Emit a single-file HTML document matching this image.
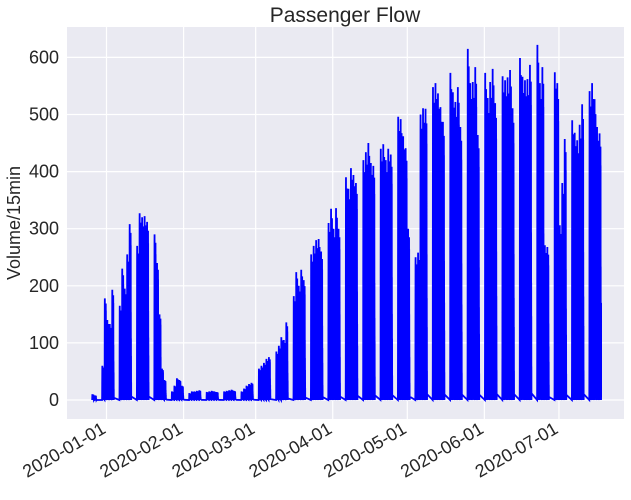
<!DOCTYPE html>
<html><head><meta charset="utf-8"><style>
body{margin:0;background:#fff;}
svg text{font-family:"Liberation Sans",Arial,sans-serif;fill:#262626;}
</style></head><body>
<svg id="chart" width="631" height="495" xmlns="http://www.w3.org/2000/svg">
<rect x="67" y="27" width="557" height="392" fill="#eaeaf2"/>
<g id="grid"></g>
<g id="axes"></g>
<path id="series" fill="none" stroke="#0000ff" stroke-width="1.8" stroke-linejoin="miter"/>
<text x="345" y="22" font-size="21" text-anchor="middle">Passenger Flow</text>
<text transform="translate(20,223) rotate(-90)" font-size="18" text-anchor="middle">Volume/15min</text>
</svg>
<script>
// Data
const yTicks = [0, 100, 200, 300, 400, 500, 600];
const xTickLabels = ["2020-01-01","2020-02-01","2020-03-01","2020-04-01","2020-05-01","2020-06-01","2020-07-01"];
const xTickDays = [0, 31, 60, 91, 121, 152, 182];
const firstDays = [10, 8];              // Dec 26, Dec 27
const firstDayOffset = -6;              // Dec 26 relative to Jan 1
const weekdayPeaks = [
  60,178,140,133,193,
  165,230,195,255,308,
  270,327,320,322,312,
  290,240,150,55,35,
  15,25,38,35,25,
  12,15,15,16,17,
  14,15,16,15,14,
  15,16,17,18,16,
  15,20,25,28,30,
  55,60,65,72,75,
  85,95,110,105,136,
  182,224,200,228,210,
  255,270,280,282,260,
  310,335,300,336,300,
  390,370,406,394,380,
  420,434,450,415,410,
  440,448,420,440,430,
  496,492,462,441,300,
  250,258,500,511,510,
  548,555,537,513,487,
  573,539,522,548,478,
  615,555,557,583,464,
  573,529,557,580,520,
  567,560,565,578,511,
  599,566,560,562,587,
  622,555,583,271,268,
  574,555,306,380,457,
  490,468,455,482,518,
  541,555,527,478,467
];
const slotProfile = [0,0.05,0.15,0.5,0.7,0.95,1.0,0.4,0.6,0.2,0.45,0.15,0.5,0.2,0.55,0.15,0.48,0.2,0.5,0.15,0.55,0.3,0.72,0.5,0.95,0.6,0.88,0.3,0.5,0.1,0.35,0.05,0.25,0.02,0.1,0,0.02];
const slotStartHour = 5;

const x0 = 106.5, pxPerDay = 2.486;
const xScale = d => x0 + d * pxPerDay;
const yScale = v => 400 - v * 0.571;
const NS = 'http://www.w3.org/2000/svg';
const grid = document.getElementById('grid');
const axes = document.getElementById('axes');

yTicks.forEach(t => {
  const l = document.createElementNS(NS,'line');
  
  
  l.setAttribute('x1',67);l.setAttribute('x2',624);
  l.setAttribute('y1',yScale(t));l.setAttribute('y2',yScale(t));
  l.setAttribute('stroke','#fff');l.setAttribute('stroke-width','1.2');
  grid.appendChild(l);
  const tx = document.createElementNS(NS,'text');
  
  
  tx.setAttribute('x',59);tx.setAttribute('y',yScale(t)+6);
  tx.setAttribute('font-size','18');tx.setAttribute('text-anchor','end');
  tx.textContent = t;
  axes.appendChild(tx);
});
xTickDays.forEach((d,i) => {
  const x = xScale(d);
  const l = document.createElementNS(NS,'line');
  
  
  l.setAttribute('x1',x);l.setAttribute('x2',x);
  l.setAttribute('y1',27);l.setAttribute('y2',419);
  l.setAttribute('stroke','#fff');l.setAttribute('stroke-width','1.2');
  grid.appendChild(l);
  const tx = document.createElementNS(NS,'text');
  
  
  tx.setAttribute('transform',`translate(${x-6},421) rotate(-30)`);
  tx.setAttribute('font-size','18');tx.setAttribute('text-anchor','end');
  tx.setAttribute('dominant-baseline','hanging');
  tx.textContent = xTickLabels[i];
  axes.appendChild(tx);
});

// build series
const days = [];
firstDays.forEach((v,i)=>days.push({d:firstDayOffset+i, v}));
let d = firstDayOffset + 4; // Dec 30 Monday
for (let i=0;i<weekdayPeaks.length;i++){
  days.push({d, v:weekdayPeaks[i]});
  d += (i%5===4) ? 3 : 1;
}
let path = '';
days.forEach(day => {
  slotProfile.forEach((f,h) => {
    const dd = day.d + (slotStartHour + h*0.5)/24;
    const v = day.v * f;
    path += (path ? 'L' : 'M') + xScale(dd).toFixed(2) + ',' + yScale(v).toFixed(2);
  });
});
const last = days[days.length-1];
path += 'L' + xScale(last.d+0.95).toFixed(2) + ',' + yScale(170).toFixed(2);
document.getElementById('series').setAttribute('d', path);
</script>
</body></html>
